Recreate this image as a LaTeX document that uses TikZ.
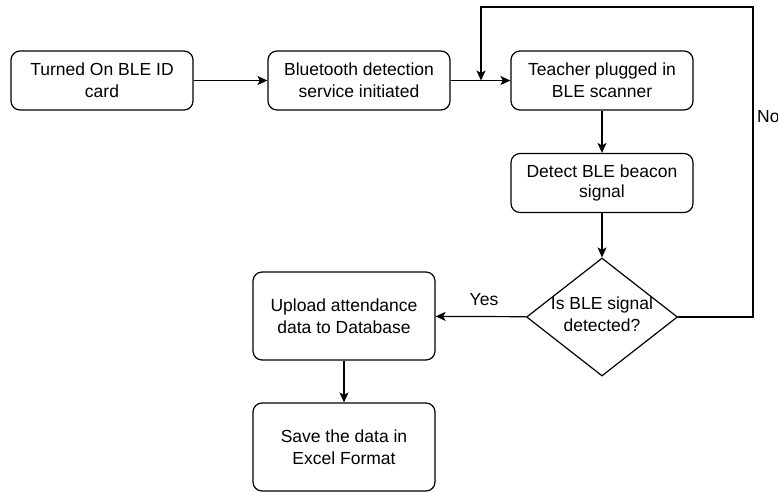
\documentclass[tikz,border=0pt]{standalone}
\usepackage{fontspec}
\setmainfont{Liberation Sans}
\usetikzlibrary{shapes.geometric,arrows.meta}
\begin{document}
\begin{tikzpicture}[x=1pt,y=-1pt,font=\fontsize{17.5}{22}\selectfont]
\useasboundingbox (0,0) rectangle (778,491);
\tikzset{stepbox/.style={draw,line width=1.2pt,rounded corners=9pt,align=center,inner sep=0pt,minimum width=182pt,minimum height=59pt},
  tallbox/.style={stepbox,minimum height=88pt},
  decision/.style={draw,line width=1.2pt,diamond,aspect=1.28,inner sep=0pt,minimum width=151pt,minimum height=118pt},
  flow/.style={-{Stealth[length=10pt,width=9pt,inset=2.5pt]},line width=1.2pt}};

\node[stepbox] (card) at (102,80.5) {Turned On BLE ID\\card};
\node[stepbox] (svc) at (359,80.5) {Bluetooth detection\\service initiated};
\node[stepbox] (scan) at (602,80.5) {Teacher plugged in\\BLE scanner};
\node[stepbox] (beacon) at (602,183) {\raisebox{-2pt}{Detect BLE beacon}\\signal};
\node[decision] (dec) at (602,317) {};
\node[align=center] (decText) at (602,314) {Is BLE signal\\detected?};
\node[tallbox] (upload) at (344,316) {Upload attendance\\data to Database};
\node[tallbox] (excel) at (344,447) {Save the data in\\Excel Format};
\node (yes) at (484,300) {Yes};
\node[anchor=west,inner sep=0pt] (no) at (757,117) {No};

\coordinate (loopR) at (753,7);
\coordinate (loopL) at (481,7);
\coordinate (merge) at (481,80.5);

\path (card) edge [flow] (svc);
\path (svc) edge [flow] (scan);
\path (scan) edge [flow] (beacon);
\path (beacon) edge [flow] (dec);
\path (dec) edge [flow] (upload);
\path (upload) edge [flow] (excel);
\draw[flow] (dec.east) -| (loopR) -- (loopL) -- (merge);
\end{tikzpicture}
\end{document}
